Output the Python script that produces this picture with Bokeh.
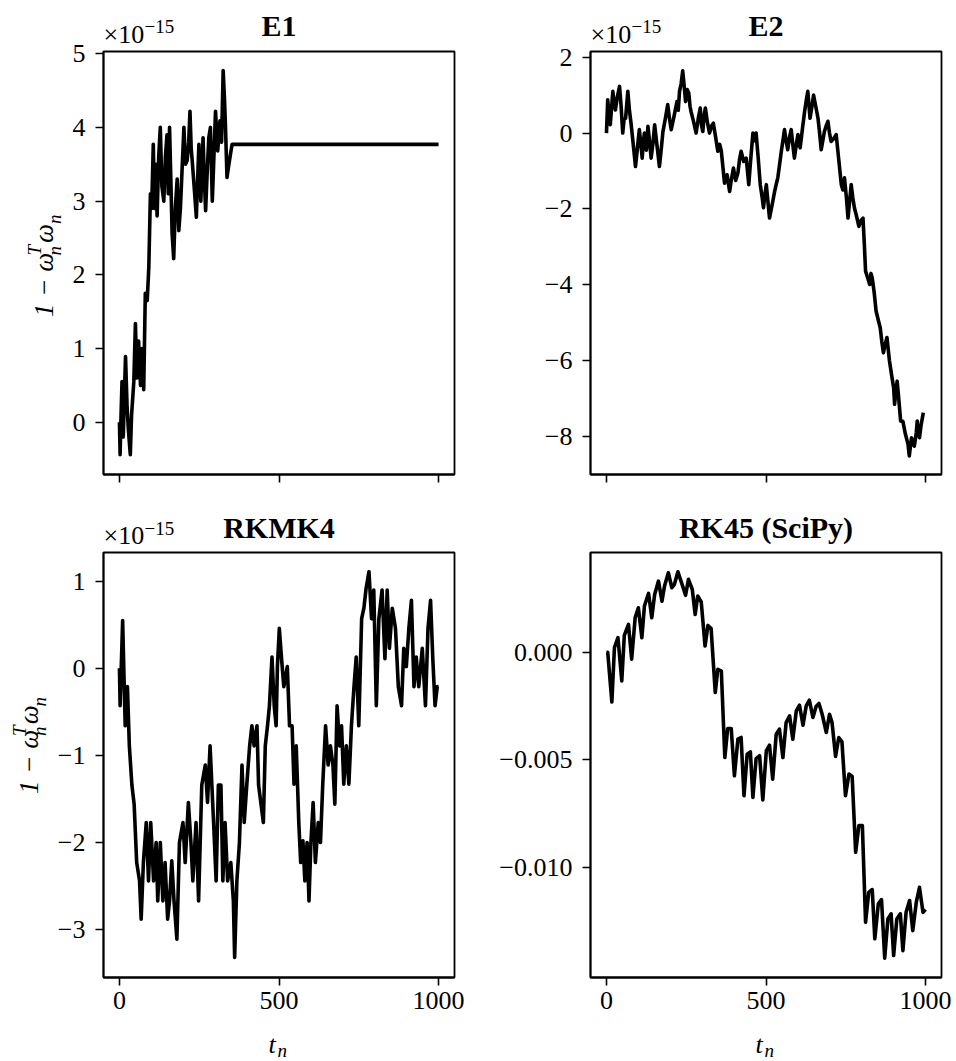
import math

from bokeh.embed import file_html
from bokeh.layouts import column, row
from bokeh.models import FixedTicker, Label, Range1d
from bokeh.plotting import figure
from bokeh.resources import INLINE

FONT = "Liberation Serif"

# ---------------------------------------------------------------------------
# Data: 1 - w_n^T w_n for each integrator (E1, E2, RKMK4 in units of 1e-15)
# ---------------------------------------------------------------------------
e1_t = [0, 2, 5, 8, 12, 15, 19, 24, 28, 34, 38, 45, 50, 55, 60, 66, 70, 76, 81, 87,
        92, 97, 101, 106, 110, 114, 118, 123, 128, 133, 139, 144, 149, 153, 157, 161,
        165, 170, 175, 181, 186, 191, 196, 202, 207, 212, 217, 221, 225, 228, 234, 241,
        245, 249, 255, 262, 266, 270, 275, 280, 285, 291, 296, 301, 308, 315, 320, 325,
        329, 332, 337, 343, 348, 353, 358, 1000]
e1_v = [0.00, -0.44, 0.10, 0.55, -0.20, 0.30, 0.89, 0.20, -0.10, -0.44, 0.10, 0.55,
        1.34, 0.60, 1.10, 0.50, 1.00, 0.44, 1.75, 1.65, 2.10, 3.10, 2.90, 3.77, 2.90,
        3.50, 2.80, 3.60, 4.00, 3.20, 3.00, 3.60, 3.90, 3.10, 4.00, 3.30, 2.56, 2.22,
        2.90, 3.30, 2.60, 2.90, 3.40, 4.00, 3.50, 3.55, 3.80, 4.22, 3.70, 3.55, 3.20,
        2.78, 3.30, 3.77, 3.00, 3.86, 3.30, 2.87, 3.40, 3.86, 4.00, 3.00, 3.60, 4.22,
        3.68, 4.09, 3.80, 4.77, 4.40, 4.05, 3.32, 3.50, 3.64, 3.77, 3.77, 3.77]

e2_t = [0, 4, 8, 12, 16, 20, 24, 28, 34, 41, 46, 51, 55, 60, 64, 67, 72, 77, 84, 91,
        97, 103, 108, 112, 116, 119, 125, 130, 135, 140, 146, 151, 158, 166, 172, 177,
        185, 192, 198, 203, 212, 221, 225, 229, 234, 239, 244, 248, 253, 258, 262, 265,
        273, 281, 288, 294, 298, 302, 306, 310, 316, 323, 330, 335, 342, 349, 355, 360,
        365, 370, 378, 386, 392, 398, 405, 412, 417, 422, 430, 438, 442, 446, 452, 459,
        464, 469, 476, 482, 488, 492, 497, 501, 506, 511, 519, 527, 532, 537, 543, 548,
        553, 558, 563, 568, 574, 579, 584, 589, 595, 600, 604, 607, 614, 621, 626, 631,
        635, 638, 644, 649, 656, 663, 668, 673, 678, 683, 689, 694, 699, 704, 712, 720,
        728, 736, 741, 746, 752, 757, 762, 767, 772, 777, 784, 791, 798, 804, 808, 812,
        818, 825, 829, 833, 839, 845, 851, 858, 863, 868, 874, 879, 883, 887, 894, 900,
        903, 906, 911, 916, 922, 929, 937, 945, 949, 952, 956, 960, 965, 971, 974, 976,
        981, 986, 993, 1000]
e2_v = [0.00, 0.88, 0.44, 0.22, 0.66, 1.10, 0.80, 0.61, 0.95, 1.23, 0.70, 0.00, 0.35,
        0.39, 0.80, 1.10, 0.60, 0.26, -0.30, -0.88, -0.40, 0.09, -0.30, -0.66, -0.20,
        0.00, -0.45, 0.18, -0.20, -0.66, -0.25, 0.22, -0.30, -0.88, -0.40, 0.04, 0.40,
        0.75, 0.35, 0.09, 0.45, 0.83, 0.60, 1.10, 1.30, 1.64, 1.20, 0.83, 1.15, 1.05,
        0.70, 0.57, 0.30, 0.00, 0.40, 0.66, 0.20, 0.04, 0.45, 0.66, 0.30, 0.00, 0.20,
        0.26, -0.10, -0.48, -0.30, -0.48, -0.90, -1.32, -1.10, -1.54, -1.20, -0.92,
        -1.25, -1.05, -0.70, -0.48, -0.75, -0.66, -1.00, -1.36, -0.70, 0.00, -0.20, 0.00,
        -0.70, -1.36, -1.70, -1.97, -1.60, -1.36, -1.80, -2.24, -1.90, -1.54, -1.35,
        -1.18, -0.80, -0.48, -0.20, 0.09, -0.20, -0.44, -0.10, 0.09, -0.30, -0.66, -0.30,
        -0.04, -0.30, -0.39, 0.10, 0.57, 0.85, 1.10, 0.70, 0.39, 0.70, 1.00, 0.70, 0.39,
        0.00, -0.44, -0.20, 0.04, 0.20, 0.31, 0.00, -0.22, -0.15, -0.04, -0.70, -1.36,
        -1.50, -1.18, -1.70, -2.24, -1.80, -1.36, -1.70, -1.97, -2.20, -2.46, -2.30,
        -2.24, -2.90, -3.64, -3.80, -3.99, -3.70, -3.82, -4.20, -4.69, -4.90, -5.13,
        -5.50, -5.79, -5.55, -5.39, -5.70, -6.01, -6.40, -6.71, -7.15, -6.90, -6.54,
        -7.00, -7.59, -7.60, -7.94, -8.20, -8.51, -8.30, -8.03, -8.20, -8.25, -7.90,
        -7.59, -7.80, -8.03, -7.70, -7.37]

rk4_t = [0, 2, 10, 18, 25, 31, 39, 46, 54, 63, 68, 75, 84, 91, 98, 107, 115, 120, 128,
         136, 143, 151, 157, 164, 171, 180, 188, 199, 206, 216, 224, 230, 240, 248, 258,
         269, 276, 284, 295, 303, 310, 318, 324, 331, 339, 349, 357, 361, 368, 376, 384,
         391, 399, 408, 415, 422, 431, 436, 443, 451, 457, 464, 470, 478, 485, 491, 495,
         501, 508, 515, 526, 533, 541, 547, 554, 562, 568, 575, 581, 588, 594, 600, 607,
         614, 623, 630, 637, 646, 654, 661, 669, 675, 682, 690, 696, 703, 711, 719, 727,
         735, 742, 750, 759, 766, 773, 782, 790, 797, 805, 813, 823, 832, 839, 846, 855,
         865, 874, 884, 891, 899, 907, 915, 923, 930, 938, 949, 959, 967, 975, 982, 989,
         996, 1000]
rk4_v = [0.00, -0.43, 0.55, -0.66, -0.21, -0.89, -1.34, -1.56, -2.23, -2.44, -2.88,
         -2.23, -1.77, -2.44, -1.77, -2.44, -2.00, -2.67, -2.00, -2.67, -2.23, -2.88,
         -2.67, -2.21, -2.67, -3.11, -2.00, -1.77, -2.23, -1.54, -2.00, -2.44, -1.77,
         -2.67, -1.34, -1.11, -1.54, -0.89, -1.77, -2.44, -1.34, -1.34, -2.44, -1.77,
         -2.44, -2.23, -2.67, -3.32, -2.44, -2.00, -1.11, -1.77, -1.34, -0.89, -0.66,
         -0.89, -0.66, -1.34, -1.54, -1.77, -0.89, -0.66, -0.43, 0.13, -0.43, -0.66,
         0.02, 0.46, 0.11, -0.21, 0.02, -0.66, -0.66, -1.33, -0.89, -1.77, -2.23, -1.98,
         -2.44, -2.00, -2.67, -2.00, -1.54, -2.23, -1.77, -2.00, -1.34, -0.66, -1.11,
         -0.89, -1.11, -1.56, -0.43, -0.89, -0.66, -1.33, -0.89, -1.33, -0.66, -0.21,
         0.13, -0.66, 0.57, 0.69, 0.92, 1.11, 0.57, 0.90, -0.43, 0.57, 0.90, 0.11, 0.90,
         0.23, 0.69, 0.46, -0.21, -0.43, 0.23, 0.02, 0.46, 0.78, -0.21, 0.13, -0.21,
         0.23, -0.43, 0.46, 0.78, 0.11, -0.43, -0.21, -0.21]

rk45_t = [0, 4, 17, 25, 36, 48, 56, 69, 79, 90, 100, 111, 119, 132, 142, 151, 163, 174,
          182, 194, 205, 213, 224, 237, 248, 257, 269, 278, 286, 297, 309, 318, 328, 341,
          349, 360, 371, 380, 391, 401, 412, 422, 431, 441, 451, 459, 469, 480, 490, 501,
          511, 521, 532, 542, 553, 563, 574, 584, 595, 605, 616, 626, 636, 647, 657, 666,
          676, 689, 699, 707, 718, 728, 738, 749, 760, 770, 781, 791, 802, 812, 822, 833,
          841, 852, 862, 872, 882, 892, 900, 910, 921, 929, 939, 950, 960, 971, 981, 992,
          1000]
rk45_v = [0.0, 0.0, -0.00231, 0.00022, 0.00068, -0.00133, 0.00079, 0.00130, -0.00032,
          0.00161, 0.00207, 0.00068, 0.00215, 0.00274, 0.00161, 0.00269, 0.00331, 0.00238,
          0.00308, 0.00370, 0.00300, 0.00316, 0.00374, 0.00316, 0.00265, 0.00339, 0.00292,
          0.00176, 0.00262, 0.00234, 0.00029, 0.00125, 0.00110, -0.00187, -0.00079,
          -0.00087, -0.00489, -0.00354, -0.00354, -0.00574, -0.00404, -0.00396, -0.00667,
          -0.00474, -0.00463, -0.00675, -0.00494, -0.00481, -0.00686, -0.00458, -0.00432,
          -0.00590, -0.00381, -0.00357, -0.00489, -0.00327, -0.00296, -0.00404, -0.00272,
          -0.00246, -0.00339, -0.00249, -0.00223, -0.00303, -0.00252, -0.00238, -0.00288,
          -0.00373, -0.00288, -0.00327, -0.00484, -0.00396, -0.00416, -0.00667, -0.00566,
          -0.00577, -0.00930, -0.00806, -0.00806, -0.01255, -0.01116, -0.01103, -0.01332,
          -0.01170, -0.01150, -0.01422, -0.01240, -0.01216, -0.01410, -0.01240, -0.01216,
          -0.01387, -0.01209, -0.01154, -0.01294, -0.01162, -0.01093, -0.01209, -0.01196]

titles = ["E1", "E2", "RKMK4", "RK45 (SciPy)"]

x_ticks = [0, 500, 1000]
x_tick_labels = ["0", "500", "1000"]

e1_ticks = [0, 1, 2, 3, 4, 5]
e1_tick_labels = ["0", "1", "2", "3", "4", "5"]
e2_ticks = [-8, -6, -4, -2, 0, 2]
e2_tick_labels = ["\u22128", "\u22126", "\u22124", "\u22122", "0", "2"]
rk4_ticks = [-3, -2, -1, 0, 1]
rk4_tick_labels = ["\u22123", "\u22122", "\u22121", "0", "1"]
rk45_ticks = [-0.01, -0.005, 0.0]
rk45_tick_labels = ["\u22120.010", "\u22120.005", "0.000"]

X_RANGE = (-50, 1050)
E1_RANGE = (-0.71, 5.03)
E2_RANGE = (-9.0, 2.15)
RK4_RANGE = (-3.55, 1.33)
RK45_RANGE = (-0.01512, 0.00464)

TICK_PX = 26
TITLE_PX = 30
SCRIPT_PX = 19
LINE_W = 3.6
FRAME_W = 1.8
# distance from the middle of a line box down to its baseline, in ems
MID_TO_BASE = 0.3375


def panel(width, height, left, right, top, bottom, y_range, y_ticks, y_labels,
          show_x_labels):
    p = figure(width=width, height=height,
               x_range=Range1d(*X_RANGE), y_range=Range1d(*y_range),
               output_backend="svg", toolbar_location=None,
               min_border_left=left, min_border_right=right,
               min_border_top=top, min_border_bottom=bottom)
    p.grid.visible = False
    p.background_fill_color = "white"
    p.border_fill_color = None
    p.outline_line_color = "black"
    p.outline_line_width = FRAME_W
    p.outline_line_alpha = 1.0
    for ax in (p.xaxis[0], p.yaxis[0]):
        ax.axis_line_color = "black"
        ax.axis_line_width = FRAME_W
        ax.major_tick_line_color = "black"
        ax.major_tick_line_width = 1.6
        ax.major_tick_out = 8
        ax.major_tick_in = 0
        ax.minor_tick_out = 0
        ax.minor_tick_in = 0
        ax.major_label_text_font = FONT
        ax.major_label_text_font_size = f"{TICK_PX}px"
        ax.major_label_text_color = "black"
    p.xaxis.ticker = FixedTicker(ticks=x_ticks)
    if show_x_labels:
        p.xaxis.major_label_overrides = dict(zip(x_ticks, x_tick_labels))
        p.xaxis.major_label_standoff = 6
    else:
        # shared time axis: the upper row keeps its tick marks only
        p.xaxis.major_label_overrides = {t: "" for t in x_ticks}
        p.xaxis.major_label_text_font_size = "1px"
        p.xaxis.major_label_standoff = 0
    p.yaxis.ticker = FixedTicker(ticks=y_ticks)
    p.yaxis.major_label_overrides = dict(zip(y_ticks, y_labels))
    p.yaxis.major_label_standoff = 10
    return p


def strip(width, height):
    """Blank canvas for the texts around the panels; coordinates in pixels, y downwards."""
    s = figure(width=width, height=height, x_range=Range1d(0, width),
               y_range=Range1d(height, 0), x_axis_type=None, y_axis_type=None,
               output_backend="svg", toolbar_location=None, min_border=0)
    s.outline_line_color = None
    s.background_fill_color = None
    s.border_fill_color = None
    return s


def put(s, x, base, text, size=TICK_PX, style="normal", align="left", vertical=False):
    """Text whose baseline sits at `base` (a y value, or an x value when vertical)."""
    shift = MID_TO_BASE * size
    if vertical:
        lx, ly, angle = base - shift, x, math.pi / 2
    else:
        lx, ly, angle = x, base - shift, 0.0
    s.add_layout(Label(x=lx, y=ly, text=text, text_font=FONT,
                       text_font_size=f"{size}px", text_font_style=style,
                       text_align=align, text_baseline="middle",
                       text_color="black", angle=angle))


def title_text(s, cx, base, text):
    put(s, cx, base, text, size=TITLE_PX, style="bold", align="center")


def offset_text(s, x, base):
    put(s, x, base, "\u00d710", size=TICK_PX)
    put(s, x + 41, base - 10, "\u221215", size=SCRIPT_PX)


def y_label(s, base_x, start_y):
    # 1 − ω_n^T ω_n, read from bottom to top
    put(s, start_y, base_x, "1 \u2212 \u03c9", size=27, style="italic", vertical=True)
    put(s, start_y - 65, base_x + 7, "n", size=19, style="italic", vertical=True)
    put(s, start_y - 65, base_x - 13, "T", size=19, style="italic", vertical=True)
    put(s, start_y - 78, base_x, "\u03c9", size=27, style="italic", vertical=True)
    put(s, start_y - 98, base_x + 7, "n", size=19, style="italic", vertical=True)


def x_label(s, x, base):
    put(s, x, base, "t", size=26, style="italic")
    put(s, x + 9, base + 3.5, "n", size=19, style="italic")


# --- page geometry (px) -----------------------------------------------------
W = 956
TOP_H, LIFT = 49, 11            # the upper row is lifted into the title strip
ROW1_H, MID_H, ROW2_H, BOT_H = 446, 66, 475, 36
ROW1_Y = TOP_H - LIFT
YL1_W, YL2_W = 66, 50

# upper row: E1 and E2
tl = panel(478 - YL1_W, ROW1_H, 103 - YL1_W, 24, 51 - ROW1_Y, 10, E1_RANGE,
           e1_ticks, e1_tick_labels, False)
tr = panel(478, ROW1_H, 112, 15, 51 - ROW1_Y, 10, E2_RANGE, e2_ticks,
           e2_tick_labels, False)
# lower row: RKMK4 and RK45
bl = panel(478 - YL2_W, ROW2_H, 103 - YL2_W, 24, 2, 48, RK4_RANGE,
           rk4_ticks, rk4_tick_labels, True)
br = panel(478, ROW2_H, 112, 15, 2, 48, RK45_RANGE, rk45_ticks, rk45_tick_labels, True)

for p, t, v in ((tl, e1_t, e1_v), (tr, e2_t, e2_v), (bl, rk4_t, rk4_v),
                (br, rk45_t, rk45_v)):
    p.line(t, v, line_color="black", line_width=LINE_W, line_join="round")

# titles and the x10^-15 scale notes
top = strip(W, TOP_H)
title_text(top, 278.5, 35, titles[0])
title_text(top, 765.5, 35, titles[1])
offset_text(top, 103, 42.5)
offset_text(top, 590, 42.5)

mid = strip(W, MID_H)
title_text(mid, 278.5, 53, titles[2])
title_text(mid, 765.5, 53, titles[3])
offset_text(mid, 103, 60)

# y labels of the left column
yl1 = strip(YL1_W, ROW1_H)
y_label(yl1, 53, 318 - ROW1_Y)
row2_y = ROW1_Y + ROW1_H + MID_H
yl2 = strip(YL2_W, ROW2_H)
y_label(yl2, 38, 820 - row2_y)

# time labels under the lower row
bot = strip(W, BOT_H)
x_label(bot, 268, 28)
x_label(bot, 755, 28)

upper = row(yl1, tl, tr, margin=(-LIFT, 0, 0, 0))
layout = column(top, upper, mid, row(yl2, bl, br), bot)

with open("out.html", "w") as f:
    f.write(file_html(layout, INLINE))
